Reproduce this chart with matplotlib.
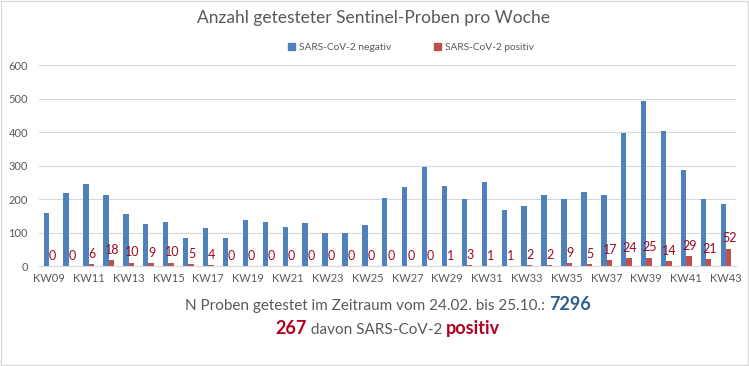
import numpy as np
import matplotlib.pyplot as plt
from matplotlib.patches import Patch, Rectangle

# weekly sentinel samples
weeks = ["KW%02d" % k for k in range(9, 44)]
negativ = [158, 218, 245, 212, 155, 126, 131, 84, 113, 84, 137,
           131, 116, 128, 99, 99, 122, 203, 236, 296, 239, 200, 251, 167,
           179, 212, 200, 221, 212, 398, 493, 403, 287, 200, 185]
positiv = [0, 0, 6, 18, 10, 9, 10, 5, 4, 0, 0,
           0, 0, 0, 0, 0, 0, 0, 0, 0, 1, 3, 1, 1,
           2, 2, 9, 5, 17, 24, 25, 14, 29, 21, 52]
total_samples = 7296
total_positiv = 267

plt.rcParams['font.family'] = ['Lato', 'DejaVu Sans']
blue = "#4F81BD"
red = "#C0504D"
gray = "#595959"
label_red = "#9C0A1E"

fig = plt.figure(figsize=(7.49, 3.66), dpi=100)
fig.patch.set_facecolor("white")
fig.patches.append(Rectangle((0.001, 0.002), 0.997, 0.995, transform=fig.transFigure,
                             fill=False, edgecolor="#D9D9D9", linewidth=1))

ax = fig.add_axes([0.052, 0.2732, 0.9306, 0.5492])
x = np.arange(len(weeks))
w = 0.27
ax.bar(x - w / 2, negativ, width=w, color=blue, label="SARS-CoV-2 negativ")
ax.bar(x + w / 2, positiv, width=w, color=red, label="SARS-CoV-2 positiv")
for xi, v in zip(x, positiv):
    ax.annotate(str(v), (xi + w / 2, v), xytext=(0.5, 3), textcoords="offset points",
                ha="center", va="bottom", fontsize=9, color=label_red)

ax.set_xlim(-0.5, len(weeks) - 0.5)
ax.set_ylim(0, 600)
ax.set_yticks(range(0, 601, 100))
ax.set_xticks(x[::2])
ax.set_xticklabels(weeks[::2])
ax.tick_params(axis="both", length=0, labelsize=8, labelcolor=gray)
ax.tick_params(axis="y", pad=8)
ax.tick_params(axis="x", pad=5)
ax.grid(axis="y", color="#D9D9D9", linewidth=0.8)
ax.set_axisbelow(True)
for s in ["top", "right", "left"]:
    ax.spines[s].set_visible(False)
ax.spines["bottom"].set_color("#D9D9D9")

fig.text(0.498, 0.95, "Anzahl getesteter Sentinel-Proben pro Woche", ha="center", va="center",
         fontsize=12.5, color=gray)

handles = [Patch(color=blue), Patch(color=red)]
fig.legend(handles, ["SARS-CoV-2 negativ", "SARS-CoV-2 positiv"], loc="center",
           bbox_to_anchor=(0.549, 0.869), ncol=2, frameon=False, fontsize=7.3,
           labelcolor=gray, handlelength=0.7, handleheight=0.7, handletextpad=0.4,
           columnspacing=4.2)

# summary lines below the chart, with coloured parts
renderer = fig.canvas.get_renderer()
W = fig.get_figwidth() * fig.dpi


def draw_line(pieces, y, cx=388):
    texts = [fig.text(0, y, s, va="baseline", **kw) for s, kw in pieces]
    widths = [t.get_window_extent(renderer).width for t in texts]
    pos = cx - sum(widths) / 2
    for t, wd in zip(texts, widths):
        t.set_x(pos / W)
        pos += wd


draw_line([("N Proben getestet im Zeitraum vom 24.02. bis 25.10.: ", dict(fontsize=11, color=gray)),
           (str(total_samples), dict(fontsize=13, color="#2F5F8F", fontweight="bold"))],
          1 - 310 / 366)
draw_line([(str(total_positiv), dict(fontsize=13, color="#B0001E", fontweight="bold")),
           (" davon SARS-CoV-2 ", dict(fontsize=11, color=gray)),
           ("positiv", dict(fontsize=13, color="#B0001E", fontweight="bold"))],
          1 - 334 / 366)

fig.savefig("out.png", dpi=100)
